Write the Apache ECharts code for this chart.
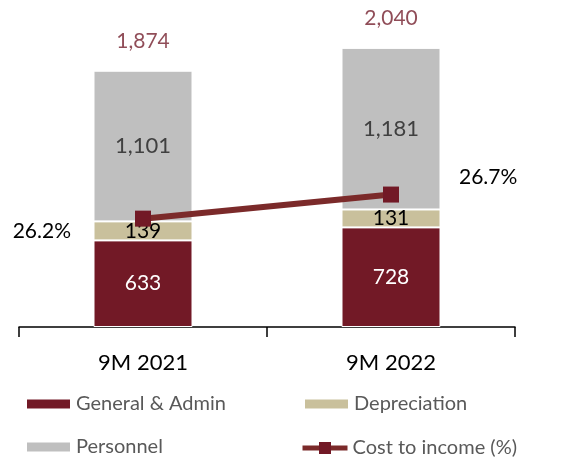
<!DOCTYPE html>
<html>
<head>
<meta charset="utf-8">
<script src="https://cdn.jsdelivr.net/npm/echarts@6/dist/echarts.min.js"></script>
<style>
  html, body { margin: 0; padding: 0; background: #fff; }
  #main { width: 569px; height: 457px; }
</style>
</head>
<body>
<div id="main"></div>
<script>
// 数据
const categories = ['9M 2021', '9M 2022'];
const generalAdmin = [633, 728];
const depreciation = [139, 131];
const personnel = [1101, 1181];
const totals = [1874, 2040];
const costToIncome = [26.2, 26.7];

const FONT = 'Lato';

function fmt(v) {
    return Number(v).toLocaleString('en-US');
}

// 图例：每项单独摆放
function legendItem(name, left, top, icon) {
    const item = {
        left: left,
        top: top,
        padding: 0,
        itemWidth: 45,
        itemHeight: 11,
        textStyle: { fontFamily: FONT, fontSize: 20, color: '#595959', lineHeight: 20 },
        data: [name]
    };
    if (icon) {
        item.icon = icon;
    } else {
        item.itemHeight = 15;
        item.itemGap = 5;
        item.lineStyle = { width: 5 };
    }
    return item;
}

const chart = echarts.init(document.getElementById('main'));

const option = {
    animation: false,
    textStyle: { fontFamily: FONT },
    grid: { left: 19, right: 54, top: 26, bottom: 130 },
    legend: [
        legendItem('General & Admin', 25, 394, 'rect'),
        legendItem('Depreciation', 303, 394, 'rect'),
        legendItem('Personnel', 25, 437, 'rect'),
        legendItem('Cost to income (%)', 300, 438)
    ],
    xAxis: {
        type: 'category',
        data: categories,
        axisLine: { lineStyle: { color: '#000', width: 1.5 } },
        axisTick: { show: true, length: 10, lineStyle: { color: '#000', width: 1.5 } },
        axisLabel: { color: '#000', fontSize: 22, margin: 25, fontFamily: FONT }
    },
    yAxis: [
        { type: 'value', min: 0, max: 2200, show: false },
        { type: 'value', min: 23.95, max: 30.2, show: false }
    ],
    series: [
        {
            name: 'General & Admin',
            type: 'bar',
            stack: 'cost',
            barWidth: 99,
            data: generalAdmin,
            itemStyle: { color: '#721926', borderColor: '#fff', borderWidth: 1 },
            label: { show: true, position: 'inside', color: '#fff', fontSize: 21, formatter: p => fmt(p.value) }
        },
        {
            name: 'Depreciation',
            type: 'bar',
            stack: 'cost',
            data: depreciation,
            itemStyle: { color: '#c9c09c', borderColor: '#fff', borderWidth: 1 },
            label: { show: true, position: 'inside', color: '#000', fontSize: 21, formatter: p => fmt(p.value) }
        },
        {
            name: 'Personnel',
            type: 'bar',
            stack: 'cost',
            data: personnel,
            itemStyle: { color: '#bfbfbf', borderColor: '#fff', borderWidth: 1 },
            label: { show: true, position: 'inside', color: '#404040', fontSize: 22, formatter: p => fmt(p.value) }
        },
        {
            name: 'Total',
            type: 'scatter',
            data: totals,
            symbolSize: 0,
            silent: true,
            label: { show: true, position: 'top', distance: 19, color: '#74202e', fontSize: 21, formatter: p => fmt(p.value) }
        },
        {
            name: 'Cost to income (%)',
            type: 'line',
            yAxisIndex: 1,
            data: costToIncome.map((v, i) => ({
                value: v,
                label: i === 0
                    ? { position: 'left', distance: 64, offset: [0, 13] }
                    : { position: 'right', distance: 60, offset: [0, -17] }
            })),
            symbol: 'rect',
            symbolSize: 16,
            lineStyle: { color: '#7b2a2a', width: 6 },
            itemStyle: { color: '#721926' },
            label: {
                show: true,
                color: '#000',
                fontSize: 21,
                formatter: p => p.value.toFixed(1) + '%'
            },
            z: 5
        }
    ]
};

chart.setOption(option);
</script>
</body>
</html>
